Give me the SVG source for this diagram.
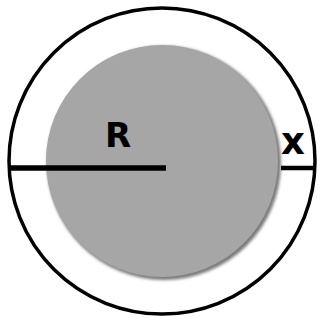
<svg xmlns="http://www.w3.org/2000/svg" width="320" height="320" viewBox="0 0 320 320">
<defs>
<filter id="blur" x="-10%" y="-10%" width="120%" height="120%"><feGaussianBlur stdDeviation="1.5"/></filter>
<style>
.lbl{font-family:"DejaVu Sans",Verdana,sans-serif;font-weight:bold;fill:#000}
.ln{stroke:#000;fill:none}
</style>
</defs>
<rect width="320" height="320" fill="#fff"/>
<g id="outer"><circle cx="162" cy="161" r="153" class="ln" stroke-width="3.5"/></g>
<g id="inner">
<circle cx="164" cy="163" r="117" fill="#7a7a7a" filter="url(#blur)"/>
<circle cx="162" cy="161" r="116" fill="#a6a6a6"/>
</g>
<g id="connectors">
<line x1="8" y1="168" x2="166" y2="168" class="ln" stroke-width="5.5"/>
<line x1="281" y1="168" x2="316" y2="168" class="ln" stroke-width="4.5"/>
</g>
<g id="labels">
<text x="118" y="147" class="lbl" font-size="34" text-anchor="middle">R</text>
<text x="293" y="154" class="lbl" font-size="37" text-anchor="middle">x</text>
</g>
</svg>
